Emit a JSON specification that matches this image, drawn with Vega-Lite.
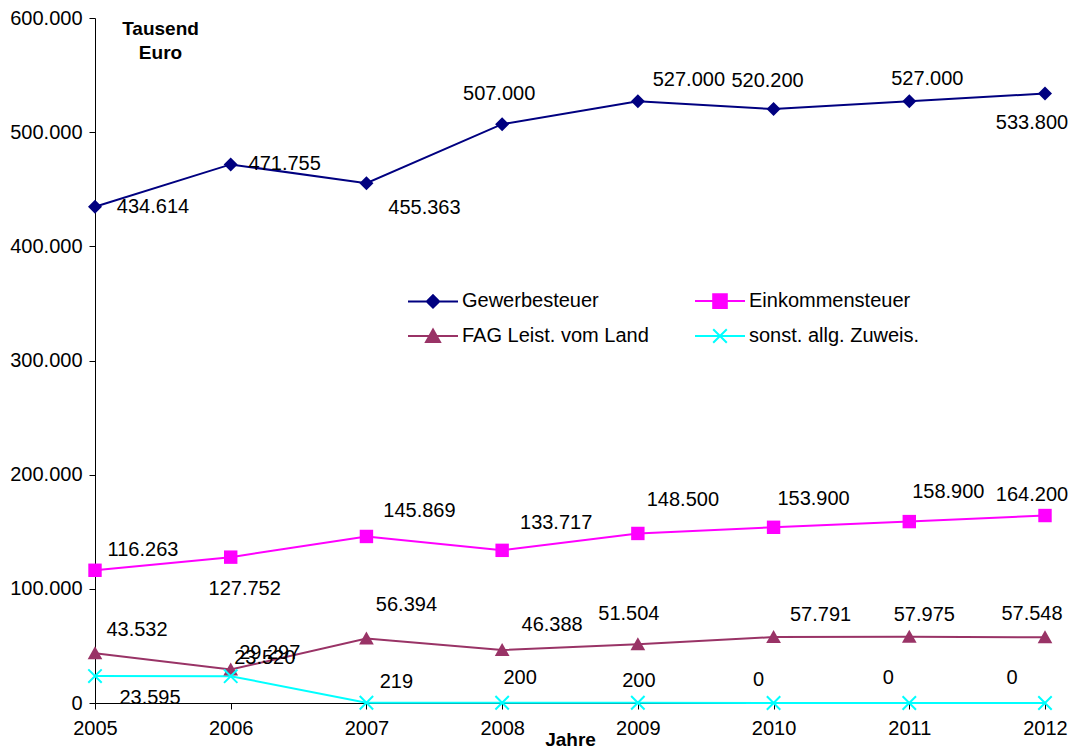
{
  "$schema": "https://vega.github.io/schema/vega-lite/v6.json",
  "width": 950,
  "height": 685,
  "autosize": {"type": "none"},
  "padding": {"left": 95, "top": 18, "right": 30, "bottom": 45},
  "background": "white",
  "config": {
    "locale": {"number": {"decimal": ",", "thousands": ".", "grouping": [3], "currency": ["", " €"]}},
    "view": {"stroke": null},
    "font": "Liberation Sans",
    "axis": {
      "grid": false,
      "domainColor": "black",
      "tickColor": "black",
      "labelColor": "black",
      "labelFont": "Liberation Sans",
      "labelFontSize": 20,
      "titleFont": "Liberation Sans",
      "titleFontSize": 19,
      "titleFontWeight": "bold",
      "titleColor": "black",
      "domainWidth": 1,
      "tickWidth": 1,
      "tickSize": 6
    },
    "text": {"font": "Liberation Sans", "fontSize": 20, "color": "black", "align": "center", "baseline": "middle"}
  },
  "data": {
    "values": [
      {"year": 2005, "s": "Gewerbesteuer", "v": 434614},
      {"year": 2006, "s": "Gewerbesteuer", "v": 471755},
      {"year": 2007, "s": "Gewerbesteuer", "v": 455363},
      {"year": 2008, "s": "Gewerbesteuer", "v": 507000},
      {"year": 2009, "s": "Gewerbesteuer", "v": 527000},
      {"year": 2010, "s": "Gewerbesteuer", "v": 520200},
      {"year": 2011, "s": "Gewerbesteuer", "v": 527000},
      {"year": 2012, "s": "Gewerbesteuer", "v": 533800},
      {"year": 2005, "s": "Einkommensteuer", "v": 116263},
      {"year": 2006, "s": "Einkommensteuer", "v": 127752},
      {"year": 2007, "s": "Einkommensteuer", "v": 145869},
      {"year": 2008, "s": "Einkommensteuer", "v": 133717},
      {"year": 2009, "s": "Einkommensteuer", "v": 148500},
      {"year": 2010, "s": "Einkommensteuer", "v": 153900},
      {"year": 2011, "s": "Einkommensteuer", "v": 158900},
      {"year": 2012, "s": "Einkommensteuer", "v": 164200},
      {"year": 2005, "s": "FAG Leist. vom Land", "v": 43532},
      {"year": 2006, "s": "FAG Leist. vom Land", "v": 29297},
      {"year": 2007, "s": "FAG Leist. vom Land", "v": 56394},
      {"year": 2008, "s": "FAG Leist. vom Land", "v": 46388},
      {"year": 2009, "s": "FAG Leist. vom Land", "v": 51504},
      {"year": 2010, "s": "FAG Leist. vom Land", "v": 57791},
      {"year": 2011, "s": "FAG Leist. vom Land", "v": 57975},
      {"year": 2012, "s": "FAG Leist. vom Land", "v": 57548},
      {"year": 2005, "s": "sonst. allg. Zuweis.", "v": 23595},
      {"year": 2006, "s": "sonst. allg. Zuweis.", "v": 23520},
      {"year": 2007, "s": "sonst. allg. Zuweis.", "v": 219},
      {"year": 2008, "s": "sonst. allg. Zuweis.", "v": 200},
      {"year": 2009, "s": "sonst. allg. Zuweis.", "v": 200},
      {"year": 2010, "s": "sonst. allg. Zuweis.", "v": 0},
      {"year": 2011, "s": "sonst. allg. Zuweis.", "v": 0},
      {"year": 2012, "s": "sonst. allg. Zuweis.", "v": 0}
    ]
  },
  "encoding": {
    "x": {
      "field": "year", "type": "quantitative",
      "scale": {"domain": [2005, 2012], "nice": false, "zero": false},
      "axis": {"values": [2005, 2006, 2007, 2008, 2009, 2010, 2011, 2012], "format": "d", "labelPadding": 9, "title": "Jahre", "titleBaseline": "middle", "titleY": 36, "labelFlush": false}
    },
    "y": {
      "field": "v", "type": "quantitative",
      "scale": {"domain": [0, 600000], "nice": false},
      "axis": {"values": [0, 100000, 200000, 300000, 400000, 500000, 600000], "format": ",d", "labelPadding": 7, "title": ["Tausend", "Euro"], "titleAngle": 0, "titleAlign": "center", "titleBaseline": "top", "titleX": 65, "titleY": 1, "titleLineHeight": 24}
    },
    "color": {
      "field": "s", "type": "nominal",
      "scale": {"domain": ["Gewerbesteuer", "Einkommensteuer", "FAG Leist. vom Land", "sonst. allg. Zuweis."], "range": ["#000080", "#FF00FF", "#993366", "#00FFFF"]},
      "legend": {
        "title": null,
        "orient": "none",
        "legendX": 327,
        "legendY": 272,
        "direction": "horizontal",
        "columns": 2,
        "columnPadding": 42,
        "rowPadding": 13,
        "padding": 0,
        "labelFont": "Liberation Sans",
        "labelFontSize": 20,
        "labelColor": "black",
        "labelOffset": 18,
        "labelLimit": 400,
        "symbolSize": 400,
        "symbolStrokeWidth": 2,
        "encode": {
          "symbols": {
            "update": {
              "shape": {"signal": "datum.value==='Gewerbesteuer'?'M-2.5,0H2.5M0,-0.62L0.62,0L0,0.62L-0.62,0Z':datum.value==='Einkommensteuer'?'M-2.5,0H2.5M-0.68,-0.68H0.68V0.68H-0.68Z':datum.value==='FAG Leist. vom Land'?'M-2.5,0H2.5M0,-0.65L0.7,0.6L-0.7,0.6Z':'M-2.5,0H2.5M-0.68,-0.68L0.68,0.68M-0.68,0.68L0.68,-0.68'"},
              "fill": {"scale": "color", "field": "value"},
              "stroke": {"scale": "color", "field": "value"},
              "strokeWidth": {"value": 2},
              "size": {"value": 400},
              "opacity": {"value": 1},
              "fillOpacity": {"value": 1},
              "strokeOpacity": {"value": 1}
            }
          }
        }
      }
    }
  },
  "layer": [
    {"mark": {"type": "line", "strokeWidth": 2}},
    {
      "transform": [{"filter": "datum.s==='Gewerbesteuer'"}],
      "mark": {"type": "point", "filled": true, "opacity": 1, "size": 196, "shape": "M0,-1L1,0L0,1L-1,0Z"}
    },
    {
      "transform": [{"filter": "datum.s==='Einkommensteuer'"}],
      "mark": {"type": "point", "filled": true, "opacity": 1, "size": 180, "shape": "M-1,-1H1V1H-1Z"}
    },
    {
      "transform": [{"filter": "datum.s==='FAG Leist. vom Land'"}],
      "mark": {"type": "point", "filled": true, "opacity": 1, "size": 196, "shape": "M0,-1L1.05,0.85L-1.05,0.85Z"}
    },
    {
      "transform": [{"filter": "datum.s==='sonst. allg. Zuweis.'"}],
      "mark": {"type": "point", "filled": false, "opacity": 1, "size": 180, "strokeWidth": 2, "shape": "M-1,-1L1,1M-1,1L1,-1"}
    },
    {
      "encoding": {"text": {"field": "v", "type": "quantitative", "format": ",d"}, "color": {"value": "black"}},
      "layer": [
        {"transform": [{"filter": "datum.s==='Gewerbesteuer'&&datum.year===2005"}], "mark": {"type": "text", "dx": 58, "dy": 0}},
        {"transform": [{"filter": "datum.s==='Gewerbesteuer'&&datum.year===2006"}], "mark": {"type": "text", "dx": 54, "dy": 0}},
        {"transform": [{"filter": "datum.s==='Gewerbesteuer'&&datum.year===2007"}], "mark": {"type": "text", "dx": 58, "dy": 25}},
        {"transform": [{"filter": "datum.s==='Gewerbesteuer'&&datum.year===2008"}], "mark": {"type": "text", "dx": -3, "dy": -30}},
        {"transform": [{"filter": "datum.s==='Gewerbesteuer'&&datum.year===2009"}], "mark": {"type": "text", "dx": 51, "dy": -21}},
        {"transform": [{"filter": "datum.s==='Gewerbesteuer'&&datum.year===2010"}], "mark": {"type": "text", "dx": -6, "dy": -28}},
        {"transform": [{"filter": "datum.s==='Gewerbesteuer'&&datum.year===2011"}], "mark": {"type": "text", "dx": 18, "dy": -22}},
        {"transform": [{"filter": "datum.s==='Gewerbesteuer'&&datum.year===2012"}], "mark": {"type": "text", "dx": -13, "dy": 29}},
        {"transform": [{"filter": "datum.s==='Einkommensteuer'&&datum.year===2005"}], "mark": {"type": "text", "dx": 48, "dy": -20}},
        {"transform": [{"filter": "datum.s==='Einkommensteuer'&&datum.year===2006"}], "mark": {"type": "text", "dx": 14, "dy": 32}},
        {"transform": [{"filter": "datum.s==='Einkommensteuer'&&datum.year===2007"}], "mark": {"type": "text", "dx": 53, "dy": -25}},
        {"transform": [{"filter": "datum.s==='Einkommensteuer'&&datum.year===2008"}], "mark": {"type": "text", "dx": 54, "dy": -27}},
        {"transform": [{"filter": "datum.s==='Einkommensteuer'&&datum.year===2009"}], "mark": {"type": "text", "dx": 45, "dy": -33}},
        {"transform": [{"filter": "datum.s==='Einkommensteuer'&&datum.year===2010"}], "mark": {"type": "text", "dx": 40, "dy": -28}},
        {"transform": [{"filter": "datum.s==='Einkommensteuer'&&datum.year===2011"}], "mark": {"type": "text", "dx": 39, "dy": -30}},
        {"transform": [{"filter": "datum.s==='Einkommensteuer'&&datum.year===2012"}], "mark": {"type": "text", "dx": -13, "dy": -21}},
        {"transform": [{"filter": "datum.s==='FAG Leist. vom Land'&&datum.year===2005"}], "mark": {"type": "text", "dx": 42, "dy": -23}},
        {"transform": [{"filter": "datum.s==='FAG Leist. vom Land'&&datum.year===2006"}], "mark": {"type": "text", "dx": 39, "dy": -17}},
        {"transform": [{"filter": "datum.s==='FAG Leist. vom Land'&&datum.year===2007"}], "mark": {"type": "text", "dx": 40, "dy": -34}},
        {"transform": [{"filter": "datum.s==='FAG Leist. vom Land'&&datum.year===2008"}], "mark": {"type": "text", "dx": 50, "dy": -25}},
        {"transform": [{"filter": "datum.s==='FAG Leist. vom Land'&&datum.year===2009"}], "mark": {"type": "text", "dx": -9, "dy": -30}},
        {"transform": [{"filter": "datum.s==='FAG Leist. vom Land'&&datum.year===2010"}], "mark": {"type": "text", "dx": 47, "dy": -22}},
        {"transform": [{"filter": "datum.s==='FAG Leist. vom Land'&&datum.year===2011"}], "mark": {"type": "text", "dx": 15, "dy": -22}},
        {"transform": [{"filter": "datum.s==='FAG Leist. vom Land'&&datum.year===2012"}], "mark": {"type": "text", "dx": -13, "dy": -23}},
        {"transform": [{"filter": "datum.s==='sonst. allg. Zuweis.'&&datum.year===2005"}], "mark": {"type": "text", "dx": 55, "dy": 22}},
        {"transform": [{"filter": "datum.s==='sonst. allg. Zuweis.'&&datum.year===2006"}], "mark": {"type": "text", "dx": 34, "dy": -18}},
        {"transform": [{"filter": "datum.s==='sonst. allg. Zuweis.'&&datum.year===2007"}], "mark": {"type": "text", "dx": 30, "dy": -21}},
        {"transform": [{"filter": "datum.s==='sonst. allg. Zuweis.'&&datum.year===2008"}], "mark": {"type": "text", "dx": 18, "dy": -25}},
        {"transform": [{"filter": "datum.s==='sonst. allg. Zuweis.'&&datum.year===2009"}], "mark": {"type": "text", "dx": 1, "dy": -22}},
        {"transform": [{"filter": "datum.s==='sonst. allg. Zuweis.'&&datum.year===2010"}], "mark": {"type": "text", "dx": -15, "dy": -23}},
        {"transform": [{"filter": "datum.s==='sonst. allg. Zuweis.'&&datum.year===2011"}], "mark": {"type": "text", "dx": -21, "dy": -25}},
        {"transform": [{"filter": "datum.s==='sonst. allg. Zuweis.'&&datum.year===2012"}], "mark": {"type": "text", "dx": -33, "dy": -25}}
      ]
    }
  ]
}
